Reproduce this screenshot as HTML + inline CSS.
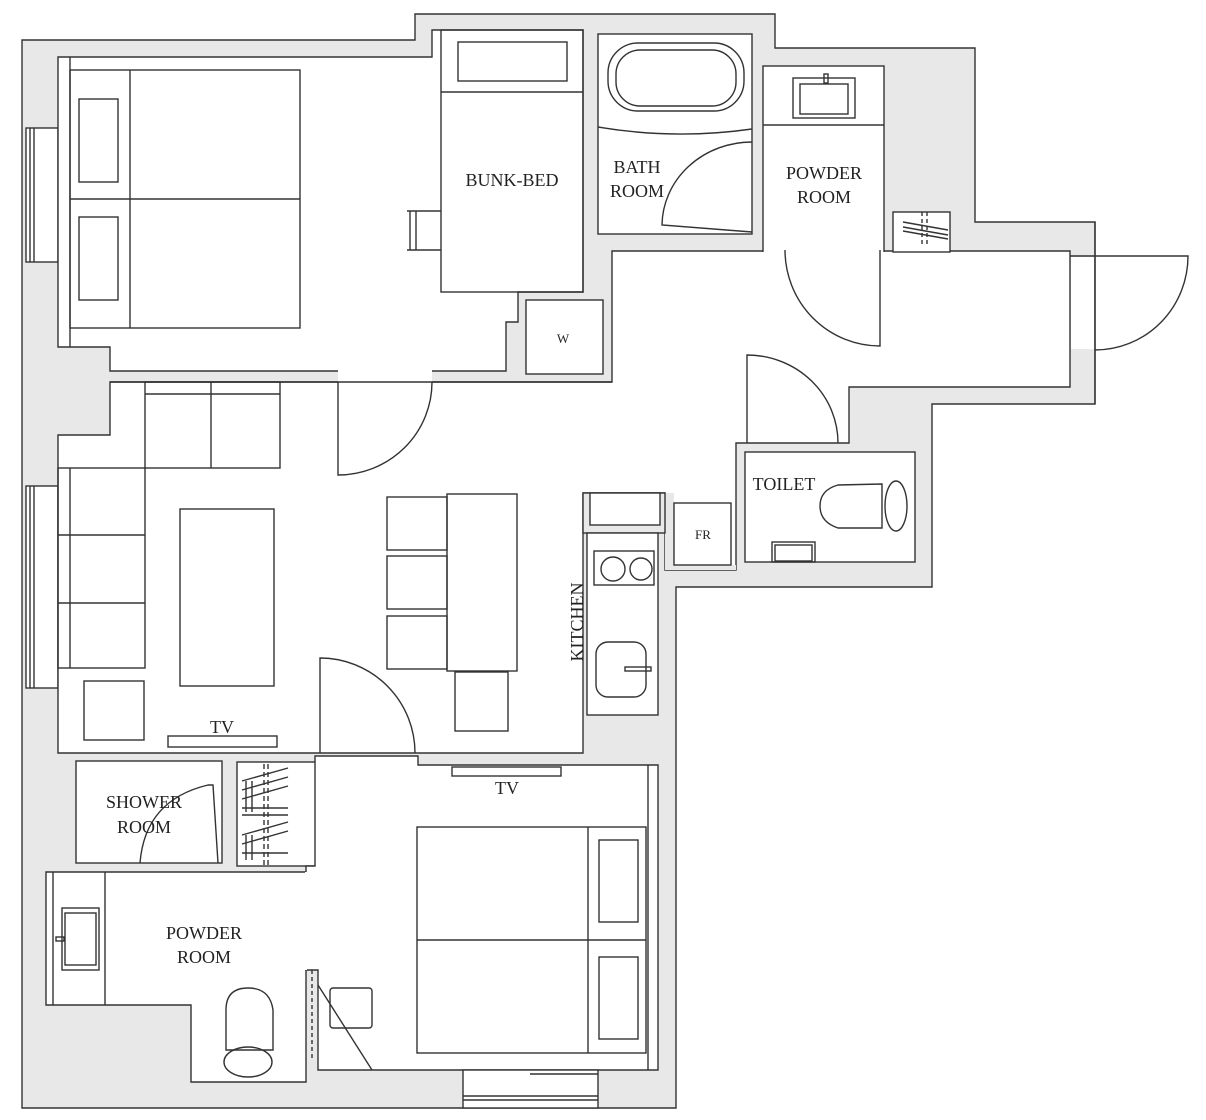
<!DOCTYPE html>
<html><head><meta charset="utf-8"><style>
html,body{margin:0;padding:0;background:#fff;}
svg{display:block;}
text{font-family:"Liberation Serif",serif;fill:#222;}
</style></head><body>
<svg width="1206" height="1120" viewBox="0 0 1206 1120" xmlns="http://www.w3.org/2000/svg">
<g stroke="#333" stroke-width="1.4" fill="none">
<polygon points="22,40 415,40 415,14 775,14 775,48 975,48 975,222 1095,222 1095,404 932,404 932,587 676,587 676,1108 22,1108" fill="#e8e8e8"/>
<rect x="26" y="128" width="32" height="134" fill="#fff"/>
<line x1="30" y1="128" x2="30" y2="262"/><line x1="34" y1="128" x2="34" y2="262"/>
<rect x="26" y="486" width="32" height="202" fill="#fff"/>
<line x1="30" y1="486" x2="30" y2="688"/><line x1="34" y1="486" x2="34" y2="688"/>
<polygon points="58,57 432,57 432,30 583,30 583,292 518,292 518,322 506,322 506,371 110,371 110,347 58,347" fill="#fff"/>
<line x1="70" y1="57" x2="70" y2="347"/>
<rect x="526" y="300" width="77" height="74" fill="#fff"/>
<polygon points="612,251 1070,251 1070,387 849,387 849,443 736,443 736,570 665,570 665,493 583,493 583,753 58,753 58,435 110,435 110,382 612,382" fill="#fff"/>
<rect x="1071" y="257" width="23" height="92" fill="#fff" stroke="none"/>
<line x1="1095" y1="222" x2="1095" y2="404"/>
<rect x="338" y="370" width="94" height="13" fill="#fff" stroke="none"/>
<line x1="110" y1="382" x2="612" y2="382"/>
<rect x="598" y="34" width="154" height="200" fill="#fff"/>
<rect x="608" y="43" width="136" height="68" rx="30" ry="30"/>
<rect x="616" y="50" width="120" height="56" rx="24" ry="24"/>
<path d="M598,127 Q675,140 752,129"/>
<path d="M752,142 A90,84 0 0 0 662,225 L752,232"/>
<rect x="763" y="66" width="121" height="190" fill="#fff"/>
<line x1="763" y1="125" x2="884" y2="125"/>
<rect x="793" y="78" width="62" height="40"/><rect x="800" y="84" width="48" height="30"/>
<rect x="824" y="74" width="4" height="9"/>
<rect x="614" y="252" width="455" height="6" fill="#fff" stroke="none"/>
<path d="M785,250 A95,96 0 0 0 880,346 L880,250"/>
<rect x="893" y="212" width="57" height="40" fill="#fff"/>
<line x1="903" y1="222" x2="948" y2="230"/><line x1="903" y1="227" x2="948" y2="235"/><line x1="903" y1="231" x2="948" y2="239"/>
<line x1="922" y1="212" x2="922" y2="246" stroke-dasharray="4,3"/><line x1="927" y1="212" x2="927" y2="246" stroke-dasharray="4,3"/>
<path d="M1070,256 L1188,256 A93,94 0 0 1 1095,350"/>
<rect x="745" y="452" width="170" height="110" fill="#fff"/>
<path d="M747,443 L747,355 A91,88 0 0 1 838,443"/>
<path d="M882,484 L838,485 Q820,490 820,506 Q820,522 838,528 L882,528 Z"/>
<ellipse cx="896" cy="506" rx="11" ry="25"/>
<rect x="772" y="542" width="43" height="20"/><rect x="775" y="545" width="37" height="16"/>
<polygon points="665,493 674,493 674,565 736,565 736,570 665,570" fill="#e8e8e8" stroke="none"/>
<rect x="674" y="503" width="57" height="62" fill="#fff"/>
<rect x="583" y="493" width="82" height="40" fill="#e8e8e8"/>
<rect x="590" y="493" width="70" height="32" fill="#fff"/>
<rect x="587" y="533" width="71" height="182" fill="#fff"/>
<rect x="594" y="551" width="60" height="34"/>
<circle cx="613" cy="569" r="12"/><circle cx="641" cy="569" r="11"/>
<rect x="596" y="642" width="50" height="55" rx="12"/>
<rect x="625" y="667" width="26" height="4"/>
<rect x="70" y="70" width="230" height="258"/>
<line x1="70" y1="199" x2="300" y2="199"/><line x1="130" y1="70" x2="130" y2="328"/>
<rect x="79" y="99" width="39" height="83"/><rect x="79" y="217" width="39" height="83"/>
<rect x="441" y="30" width="142" height="262"/>
<line x1="441" y1="92" x2="583" y2="92"/>
<rect x="458" y="42" width="109" height="39"/>
<path d="M407,211 L441,211 M407,250 L441,250 M410,211 L410,250 M416,211 L416,250"/>
<path d="M338,382 L338,475 A94,93 0 0 0 432,382"/>
<rect x="145" y="382" width="135" height="86"/>
<line x1="145" y1="394" x2="280" y2="394"/><line x1="211" y1="382" x2="211" y2="468"/>
<rect x="58" y="468" width="87" height="200"/>
<line x1="70" y1="468" x2="70" y2="668"/>
<line x1="58" y1="535" x2="145" y2="535"/><line x1="58" y1="603" x2="145" y2="603"/>
<rect x="180" y="509" width="94" height="177"/>
<rect x="84" y="681" width="60" height="59"/>
<rect x="168" y="736" width="109" height="11"/>
<rect x="447" y="494" width="70" height="177"/>
<rect x="387" y="497" width="60" height="53"/><rect x="387" y="556" width="60" height="53"/><rect x="387" y="616" width="60" height="53"/>
<rect x="455" y="672" width="53" height="59"/>
<rect x="76" y="761" width="146" height="102" fill="#fff"/>
<rect x="237" y="762" width="80" height="104" fill="#fff"/>
<polygon points="46,872 306,872 306,1082 191,1082 191,1005 46,1005" fill="#fff"/>
<line x1="53" y1="872" x2="53" y2="1005"/><line x1="105" y1="872" x2="105" y2="1005"/>
<rect x="62" y="908" width="37" height="62"/><rect x="65" y="913" width="31" height="52"/>
<rect x="56" y="937" width="8" height="4"/>
<path d="M226,1050 L226,1010 Q226,988 248,988 Q270,988 273,1010 L273,1050 Z"/>
<ellipse cx="248" cy="1062" rx="24" ry="15"/>
<path d="M140,863 Q145,800 208,785 L213,785 L218,863"/>
<polygon points="315,756 418,756 418,765 658,765 658,1070 318,1070 318,970 306,970 306,866 315,866" fill="#fff"/>
<line x1="306" y1="872" x2="306" y2="970" stroke="#fff" stroke-width="2"/>
<line x1="312" y1="970" x2="312" y2="1060" stroke-dasharray="4,3"/>
<line x1="648" y1="765" x2="648" y2="1070"/>
<line x1="318" y1="985" x2="372" y2="1070"/>
<rect x="330" y="988" width="42" height="40" rx="3"/>
<path d="M320,753 L320,658 A95,95 0 0 1 415,753"/>
<rect x="417" y="827" width="229" height="226"/>
<line x1="417" y1="940" x2="646" y2="940"/><line x1="588" y1="827" x2="588" y2="1053"/>
<rect x="599" y="840" width="39" height="82"/><rect x="599" y="957" width="39" height="82"/>
<rect x="452" y="767" width="109" height="9"/>
<rect x="463" y="1070" width="135" height="38" fill="#fff"/>
<line x1="463" y1="1096" x2="598" y2="1096"/><line x1="463" y1="1100" x2="598" y2="1100"/>
<line x1="530" y1="1074" x2="598" y2="1074"/>
<line x1="264" y1="764" x2="264" y2="866" stroke-dasharray="5,3"/>
<line x1="268" y1="764" x2="268" y2="866" stroke-dasharray="5,3"/>
<path d="M242,781 L288,768 M242,790 L288,777 M242,799 L288,786 M242,808 L288,808 M242,815 L288,815 M242,835 L288,822 M242,844 L288,831 M242,853 L288,853"/>
<path d="M246,781 L246,812 M252,781 L252,812 M246,835 L246,860 M252,835 L252,860"/>
</g>
<g font-size="18" text-anchor="middle">
<text x="512" y="186">BUNK-BED</text>
<text x="637" y="173">BATH</text><text x="637" y="197">ROOM</text>
<text x="824" y="179">POWDER</text><text x="824" y="203">ROOM</text>
<text x="784" y="490">TOILET</text>
<text x="144" y="808">SHOWER</text><text x="144" y="833">ROOM</text>
<text x="204" y="939">POWDER</text><text x="204" y="963">ROOM</text>
<text x="222" y="733">TV</text>
<text x="507" y="794">TV</text>
<text x="583" y="622" transform="rotate(-90 583 622)">KITCHEN</text>
</g>
<g font-size="13" text-anchor="middle">
<text x="563" y="343">W</text>
<text x="703" y="539">FR</text>
</g>
</svg>
</body></html>
